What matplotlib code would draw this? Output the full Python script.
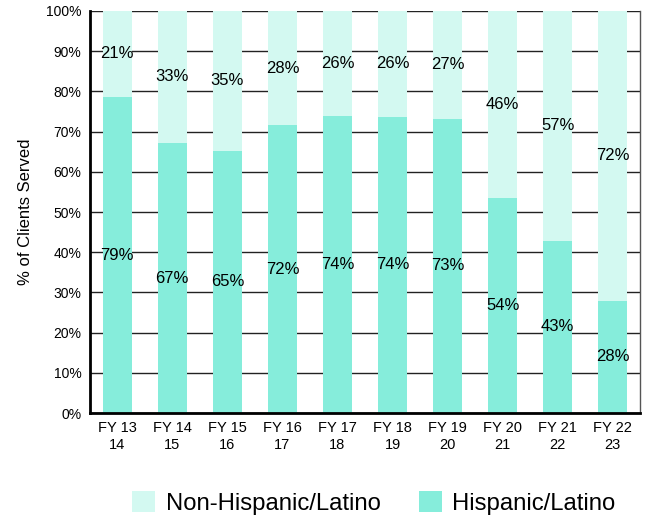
import numpy as np
import matplotlib.pyplot as plt

plt.rcParams['font.family'] = ['Liberation Sans', 'DejaVu Sans']

years = ['FY 13\n14', 'FY 14\n15', 'FY 15\n16', 'FY 16\n17', 'FY 17\n18',
         'FY 18\n19', 'FY 19\n20', 'FY 20\n21', 'FY 21\n22', 'FY 22\n23']
hispanic = [78.6, 67.2, 65.3, 71.6, 73.8, 73.7, 73.2, 53.6, 42.9, 28.0]
non_hispanic = [21.4, 32.8, 34.7, 28.4, 26.2, 26.3, 26.8, 46.4, 57.1, 72.0]

col_hisp = '#86EDDB'
col_non = '#D3F9F1'

fig = plt.figure(figsize=(6.5, 5.21), dpi=100)
ax = fig.add_axes([0.138, 0.207, 0.847, 0.772])

x = np.arange(len(years)) + 0.5
w = 0.53
b1 = ax.bar(x, hispanic, w, color=col_hisp, label='Hispanic/Latino', zorder=2)
b2 = ax.bar(x, non_hispanic, w, bottom=hispanic, color=col_non,
            label='Non-Hispanic/Latino', zorder=2)

for xi, h, n in zip(x, hispanic, non_hispanic):
    ax.text(xi, h / 2, '{:.0f}%'.format(h), ha='center', va='center', fontsize=12, zorder=3)
    ax.text(xi, h + n / 2, '{:.0f}%'.format(n), ha='center', va='center', fontsize=12, zorder=3)

ax.set_xlim(0, len(years))
ax.set_ylim(0, 100)
ax.set_yticks(np.arange(0, 101, 10))
ax.set_yticklabels(['{}%'.format(v) for v in range(0, 101, 10)])
ax.set_xticks(x)
ax.set_xticklabels(years)
ax.tick_params(axis='both', labelsize=10, length=0, pad=6)
ax.tick_params(axis='x', labelsize=10.5)
ax.yaxis.grid(True, color='#222222', lw=1, zorder=0)
ax.set_axisbelow(True)

ax.spines['left'].set_linewidth(2)
ax.spines['bottom'].set_linewidth(2)
ax.spines['top'].set_visible(False)
ax.spines['right'].set_color('#555555')
ax.spines['right'].set_linewidth(1)

ax.set_ylabel('% of Clients Served', fontsize=12, labelpad=9)

handles = [b2, b1]
fig.legend(handles, [h.get_label() for h in handles], loc='center',
           bbox_to_anchor=(0.575, 0.034), ncol=2, frameon=False, fontsize=17.2,
           handlelength=0.96, handleheight=0.96, handletextpad=0.45,
           columnspacing=1.6)

fig.savefig('out.png', dpi=100)
